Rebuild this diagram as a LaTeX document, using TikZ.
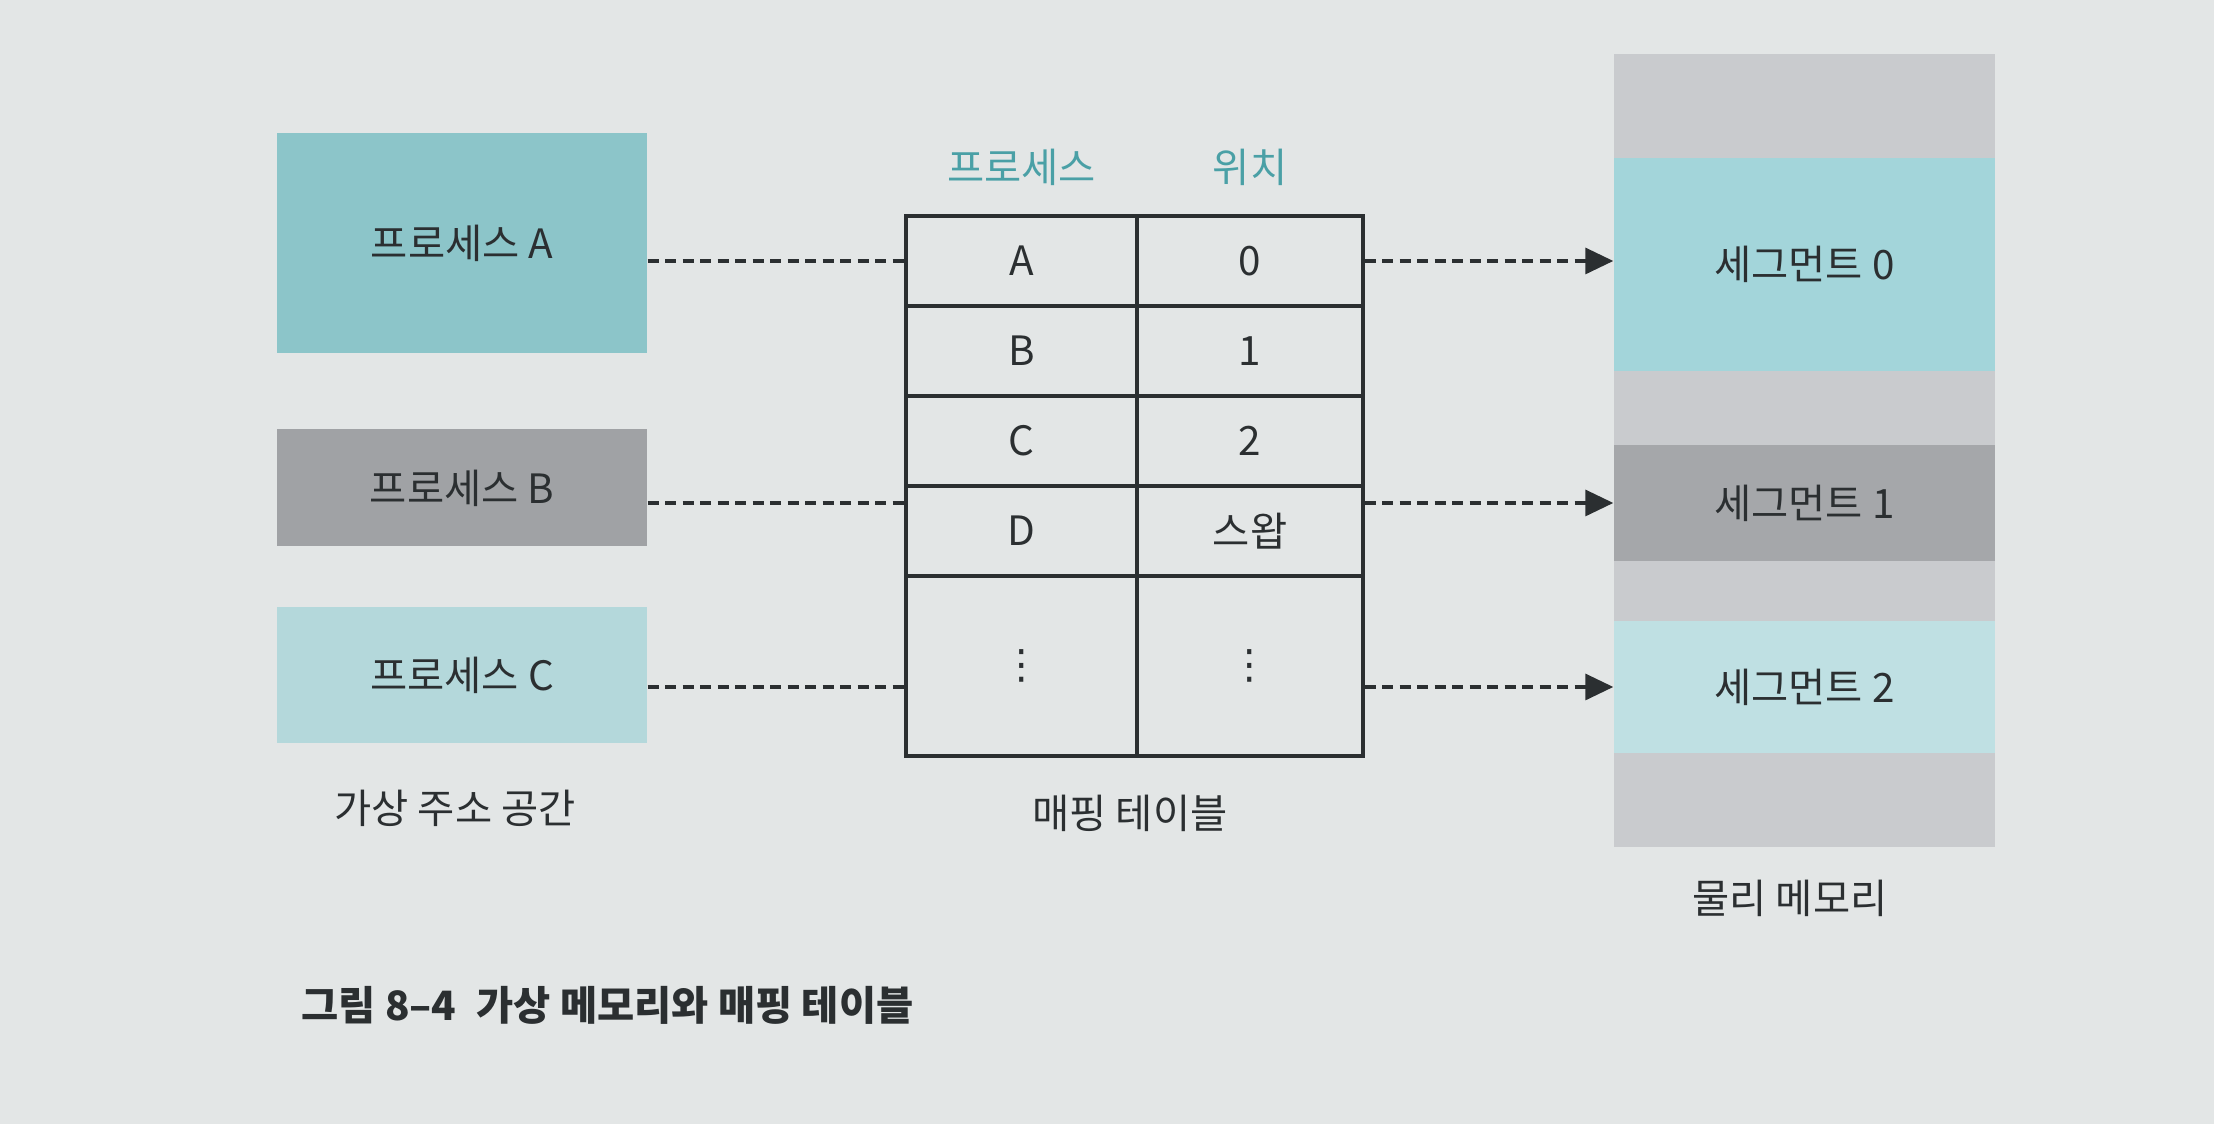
\documentclass[tikz,border=0pt]{standalone}
\usepackage{fontspec}
\setmainfont{Noto Sans CJK KR}
\newfontfamily\symfont{DejaVu Sans}
\usetikzlibrary{positioning}
\usetikzlibrary{arrows.meta}

\definecolor{paper}{HTML}{E3E6E6}
\definecolor{ink}{HTML}{2B2F31}
\definecolor{headteal}{HTML}{4AA0A6}
\definecolor{tealA}{HTML}{8CC5C9}
\definecolor{greyB}{HTML}{A0A2A5}
\definecolor{tealC}{HTML}{B4D8DB}
\definecolor{memgrey}{HTML}{C9CBCE}
\definecolor{segteal}{HTML}{A3D5DA}
\definecolor{seggrey}{HTML}{A5A7AA}
\definecolor{segpale}{HTML}{BFE0E3}

\begin{document}
\begin{tikzpicture}[
        txt/.style={font=\fontsize{11.5}{14}\selectfont, text=ink},
        proc/.style={txt, minimum width=3.7cm, inner sep=0pt},
        cell/.style={txt, draw=ink, line width=0.9pt, minimum height=0.9cm, inner sep=0pt},
        seg/.style={txt, minimum width=3.81cm, inner sep=0pt},
        link/.style={ink, line width=0.95pt, dash pattern=on 0.11cm off 0.065cm},
        tip/.style={-{Triangle[length=0.28cm, width=0.26cm]}}
    ]
    % Page
    \fill[paper] (0,0) rectangle (22.14,11.24);
    \useasboundingbox (0,0) rectangle (22.14,11.24);

    % Virtual address spaces
    \node[proc, fill=tealA, minimum height=2.2cm] (A) at (4.62,8.81) {프로세스 A};
    \node[proc, fill=greyB, minimum height=1.17cm] (B) at (4.62,6.36) {프로세스 B};
    \node[proc, fill=tealC, minimum height=1.36cm] (C) at (4.62,4.49) {프로세스 C};
    \node[txt] (vas) at (4.55,3.16) {가상 주소 공간};

    % Mapping table
    \node[cell, minimum width=2.31cm] (cA) at (10.215,8.63) {A};
    \node[cell, minimum width=2.26cm] (pA) at (12.50,8.63) {0};
    \node[cell, minimum width=2.31cm] (cB) at (10.215,7.73) {B};
    \node[cell, minimum width=2.26cm] (pB) at (12.50,7.73) {1};
    \node[cell, minimum width=2.31cm] (cC) at (10.215,6.83) {C};
    \node[cell, minimum width=2.26cm] (pC) at (12.50,6.83) {2};
    \node[cell, minimum width=2.31cm] (cD) at (10.215,5.93) {D};
    \node[cell, minimum width=2.26cm] (pD) at (12.50,5.93) {스왑};
    \node[cell, minimum width=2.31cm, minimum height=1.8cm] (cE) at (10.215,4.58) {\symfont ⋮};
    \node[cell, minimum width=2.26cm, minimum height=1.8cm] (pE) at (12.50,4.58) {\symfont ⋮};
    \node[txt, text=headteal, above=0.16cm of cA] (hproc) {프로세스};
    \node[txt, text=headteal, above=0.16cm of pA] (hloc) {위치};
    \node[txt] (map) at (11.30,3.11) {매핑 테이블};

    % Physical memory
    \node[fill=memgrey, minimum width=3.81cm, minimum height=7.93cm, inner sep=0pt] (mem) at (18.045,6.735) {};
    \node[seg, fill=segteal, minimum height=2.13cm] (seg0) at (18.045,8.595) {세그먼트 0};
    \node[seg, fill=seggrey, minimum height=1.16cm] (seg1) at (18.045,6.21) {세그먼트 1};
    \node[seg, fill=segpale, minimum height=1.32cm] (seg2) at (18.045,4.37) {세그먼트 2};
    \node[txt] (phys) at (17.90,2.26) {물리 메모리};

    % Connections
    \draw[link] (A.east |- cA) -- (cA.west);
    \draw[link, tip] (pA.east) -- (pA.east -| seg0.west);
    \draw[link] (B.east |- seg1) -- (cD.west |- seg1);
    \draw[link, tip] (pD.east |- seg1) -- (seg1.west);
    \draw[link] (C.east |- seg2) -- (cE.west |- seg2);
    \draw[link, tip] (pE.east |- seg2) -- (seg2.west);

    % Caption
    \node[txt, font=\fontsize{11.5}{14}\selectfont\bfseries, anchor=west] (cap) at (2.89,1.19) {그림 8–4\enspace 가상 메모리와 매핑 테이블};
\end{tikzpicture}
\end{document}
